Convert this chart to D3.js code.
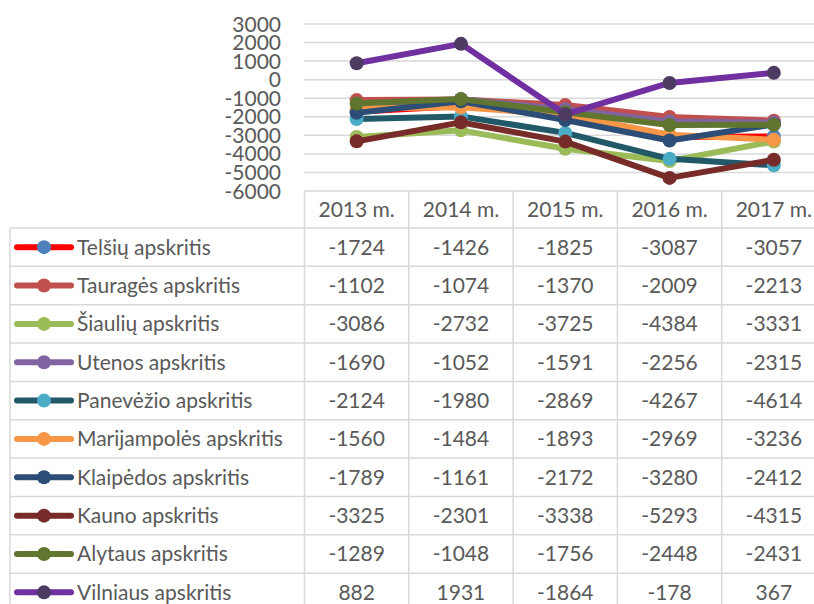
<!DOCTYPE html>
<html>

<head>
  <meta charset="UTF-8">
  <style>
    body { margin: 0; background: #fff; }
    svg text { font-family: Lato, "Open Sans", sans-serif; fill: #595959; }
  </style>
</head>

<body>
  <svg></svg>
  <script src="https://d3js.org/d3.v7.min.js"></script>

  <script>

    let width = 814, height = 604;

    // data
    let years = ["2013 m.", "2014 m.", "2015 m.", "2016 m.", "2017 m."];
    let regions = ["Telšių apskritis", "Tauragės apskritis", "Šiaulių apskritis", "Utenos apskritis",
      "Panevėžio apskritis", "Marijampolės apskritis", "Klaipėdos apskritis", "Kauno apskritis",
      "Alytaus apskritis", "Vilniaus apskritis"];
    let telsiai = [-1724, -1426, -1825, -3087, -3057];
    let taurage = [-1102, -1074, -1370, -2009, -2213];
    let siauliai = [-3086, -2732, -3725, -4384, -3331];
    let utena = [-1690, -1052, -1591, -2256, -2315];
    let panevezys = [-2124, -1980, -2869, -4267, -4614];
    let marijampole = [-1560, -1484, -1893, -2969, -3236];
    let klaipeda = [-1789, -1161, -2172, -3280, -2412];
    let kaunas = [-3325, -2301, -3338, -5293, -4315];
    let alytus = [-1289, -1048, -1756, -2448, -2431];
    let vilnius = [882, 1931, -1864, -178, 367];
    let yTicks = [3000, 2000, 1000, 0, -1000, -2000, -3000, -4000, -5000, -6000];

    let lineColors = ["#ff0000", "#c0504d", "#9bbb59", "#8064a2", "#215968", "#f79646", "#2c4d75", "#772c2a", "#5f7530", "#7030a0"];
    let dotColors = ["#4f81bd", "#c0504d", "#9bbb59", "#8064a2", "#4bacc6", "#f79646", "#2c4d75", "#772c2a", "#5f7530", "#4d3b62"];

    let series = [telsiai, taurage, siauliai, utena, panevezys, marijampole, klaipeda, kaunas, alytus, vilnius]
      .map((v, i) => ({ name: regions[i], values: v, line: lineColors[i], dot: dotColors[i] }));

    let svg = d3.select("svg")
      .attr("width", width)
      .attr("height", height);

    let x = d3.scaleBand().domain(years).range([304.5, 826]).padding(0);
    let y = d3.scaleLinear().domain([-6000, 3000]).range([191, 24]);
    let cx = d => x(d) + x.bandwidth() / 2;

    let gridColor = "#d9d9d9";

    // gridlines
    svg.append("g")
      .selectAll("line")
      .data(yTicks.filter(t => t > -6000))
      .enter()
      .append("line")
      .attr("x1", 304).attr("x2", 826)
      .attr("y1", d => y(d)).attr("y2", d => y(d))
      .attr("stroke", gridColor).attr("stroke-width", 1.5);

    // y tick labels
    svg.append("g")
      .selectAll("text")
      .data(yTicks)
      .enter()
      .append("text")
      .attr("x", 281)
      .attr("y", d => y(d) + 7.5)
      .attr("text-anchor", "end")
      .style("font-size", "21px")
      .text(d => d);

    // lines
    let line = d3.line()
      .x((d, i) => cx(years[i]))
      .y(d => y(d));

    let g = svg.append("g");
    series.forEach(s => {
      g.append("path")
        .attr("d", line(s.values))
        .attr("fill", "none")
        .attr("stroke", s.line)
        .attr("stroke-width", 6)
        .attr("stroke-linejoin", "round");
      g.selectAll(null)
        .data(s.values)
        .enter()
        .append("circle")
        .attr("cx", (d, i) => cx(years[i]))
        .attr("cy", d => y(d))
        .attr("r", 7)
        .attr("fill", s.dot);
    });

    // data table
    let headTop = 191, headBottom = 228, rowH = 38.35;
    let rowY = i => headBottom + i * rowH;
    let table = svg.append("g");

    // horizontal borders
    table.append("line")
      .attr("x1", 304).attr("x2", 826)
      .attr("y1", headTop).attr("y2", headTop)
      .attr("stroke", gridColor).attr("stroke-width", 1.5);
    d3.range(regions.length + 1).forEach(i => {
      table.append("line")
        .attr("x1", 10).attr("x2", 826)
        .attr("y1", rowY(i)).attr("y2", rowY(i))
        .attr("stroke", gridColor).attr("stroke-width", 1.5);
    });
    // vertical borders
    table.append("line")
      .attr("x1", 10).attr("x2", 10)
      .attr("y1", headBottom).attr("y2", rowY(regions.length))
      .attr("stroke", gridColor).attr("stroke-width", 1.5);
    years.forEach(yr => {
      table.append("line")
        .attr("x1", x(yr)).attr("x2", x(yr))
        .attr("y1", headTop).attr("y2", rowY(regions.length))
        .attr("stroke", gridColor).attr("stroke-width", 1.5);
    });

    // header
    table.selectAll(".hdr")
      .data(years)
      .enter()
      .append("text")
      .attr("class", "hdr")
      .attr("x", d => cx(d))
      .attr("y", (headTop + headBottom) / 2 + 7.5)
      .attr("text-anchor", "middle")
      .style("font-size", "21px")
      .text(d => d);

    // rows
    series.forEach((s, r) => {
      let mid = rowY(r) + rowH / 2;
      table.append("line")
        .attr("x1", 17).attr("x2", 71)
        .attr("y1", mid).attr("y2", mid)
        .attr("stroke", s.line).attr("stroke-width", 6)
        .attr("stroke-linecap", "round");
      table.append("circle")
        .attr("cx", 44).attr("cy", mid).attr("r", 7)
        .attr("fill", s.dot);
      table.append("text")
        .attr("x", 77).attr("y", mid + 7.5)
        .style("font-size", "21px")
        .text(s.name);
      s.values.forEach((v, i) => {
        table.append("text")
          .attr("x", cx(years[i]))
          .attr("y", mid + 7.5)
          .attr("text-anchor", "middle")
          .style("font-size", "21px")
          .text(v);
      });
    });

  </script>

</body>

</html>
